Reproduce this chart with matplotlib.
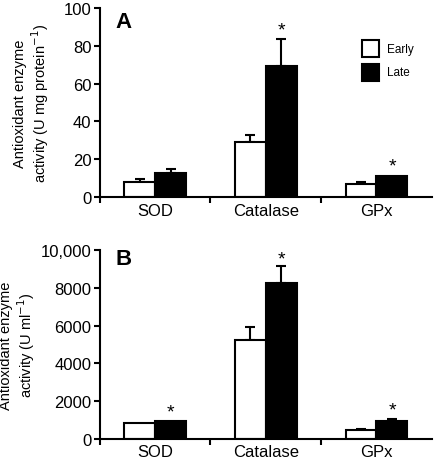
import matplotlib.pyplot as plt
import numpy as np
from matplotlib.ticker import FixedLocator

plt.rcParams['font.family'] = ['Liberation Sans', 'DejaVu Sans']

categories = ['SOD', 'Catalase', 'GPx']

# panel A, U mg protein-1
a_early = [7.9, 29.0, 7.0]
a_early_err = [1.8, 4.0, 0.8]
a_late = [12.7, 69.2, 11.1]
a_late_err = [2.3, 14.4, 0.0]
a_stars = [None, 88.5, 16.5]

# panel B, U ml-1
b_early = [850, 5240, 475]
b_early_err = [0, 700, 55]
b_late = [950, 8230, 935]
b_late_err = [0, 900, 120]
b_stars = [1450, 9500, 1550]

b_ticklabels = ['0', '2000', '4000', '6000', '8000', '10,000']


def draw_panel(ax, early, early_err, late, late_err, stars, ymax, letter, letter_y):
    x = np.arange(len(categories))
    w = 0.28
    ax.bar(x - w / 2, early, w, color='white', edgecolor='black', linewidth=1.5, zorder=2)
    ax.bar(x + w / 2, late, w, color='black', edgecolor='black', linewidth=1.5, zorder=2)
    for i in range(len(x)):
        if early_err[i] > 0:
            ax.errorbar(x[i] - w / 2, early[i], yerr=[[0], [early_err[i]]], fmt='none',
                        ecolor='black', elinewidth=1.5, capsize=3.5, capthick=1.5, zorder=1)
        if late_err[i] > 0:
            ax.errorbar(x[i] + w / 2, late[i], yerr=[[0], [late_err[i]]], fmt='none',
                        ecolor='black', elinewidth=1.5, capsize=3.5, capthick=1.5, zorder=1)
        if stars[i] is not None:
            ax.text(x[i] + w / 2, stars[i], '*', ha='center', va='center', fontsize=14)
    ax.set_xlim(-0.5, 2.5)
    ax.set_ylim(0, ymax)
    ax.spines['top'].set_visible(False)
    ax.spines['right'].set_visible(False)
    ax.spines['left'].set_linewidth(1.5)
    ax.spines['bottom'].set_linewidth(1.5)
    ax.set_xticks(x)
    ax.set_xticklabels(categories, fontsize=12)
    ax.tick_params(axis='x', length=0, pad=4)
    ax.xaxis.set_minor_locator(FixedLocator([-0.5, 0.5, 1.5]))
    ax.tick_params(axis='x', which='minor', length=4, width=1.5, direction='out')
    ax.tick_params(axis='y', length=4, width=1.5, direction='out', labelsize=12, pad=2)
    ax.text(0.048, letter_y, letter, transform=ax.transAxes, fontsize=16, fontweight='bold',
            ha='left', va='center')


fig = plt.figure(figsize=(4.34, 4.64), dpi=100)
ax1 = fig.add_axes([0.230, 0.573, 0.765, 0.408])
ax2 = fig.add_axes([0.230, 0.052, 0.765, 0.407])

draw_panel(ax1, a_early, a_early_err, a_late, a_late_err, a_stars, 100, 'A', 0.93)
ax1.set_yticks([0, 20, 40, 60, 80, 100])
ax1.set_ylabel('Antioxidant enzyme\nactivity (U mg protein$^{-1}$)', fontsize=10.5,
               linespacing=1.1)
ax1.yaxis.set_label_coords(-0.148, 0.5)

draw_panel(ax2, b_early, b_early_err, b_late, b_late_err, b_stars, 10000, 'B', 0.955)
ax2.set_yticks([0, 2000, 4000, 6000, 8000, 10000])
ax2.set_yticklabels(b_ticklabels)
ax2.set_ylabel('Antioxidant enzyme\nactivity (U ml$^{-1}$)', fontsize=10.5,
               linespacing=1.1)
ax2.yaxis.set_label_coords(-0.19, 0.5)

# legend boxes in panel A
ax1.add_patch(plt.Rectangle((0.79, 0.74), 0.05, 0.088, transform=ax1.transAxes,
                            facecolor='white', edgecolor='black', linewidth=1.5))
ax1.add_patch(plt.Rectangle((0.79, 0.615), 0.05, 0.088, transform=ax1.transAxes,
                            facecolor='black', edgecolor='black', linewidth=1.5))
ax1.text(0.865, 0.785, 'Early', transform=ax1.transAxes, fontsize=8.5, va='center')
ax1.text(0.865, 0.66, 'Late', transform=ax1.transAxes, fontsize=8.5, va='center')

fig.savefig('out.png', dpi=100)
